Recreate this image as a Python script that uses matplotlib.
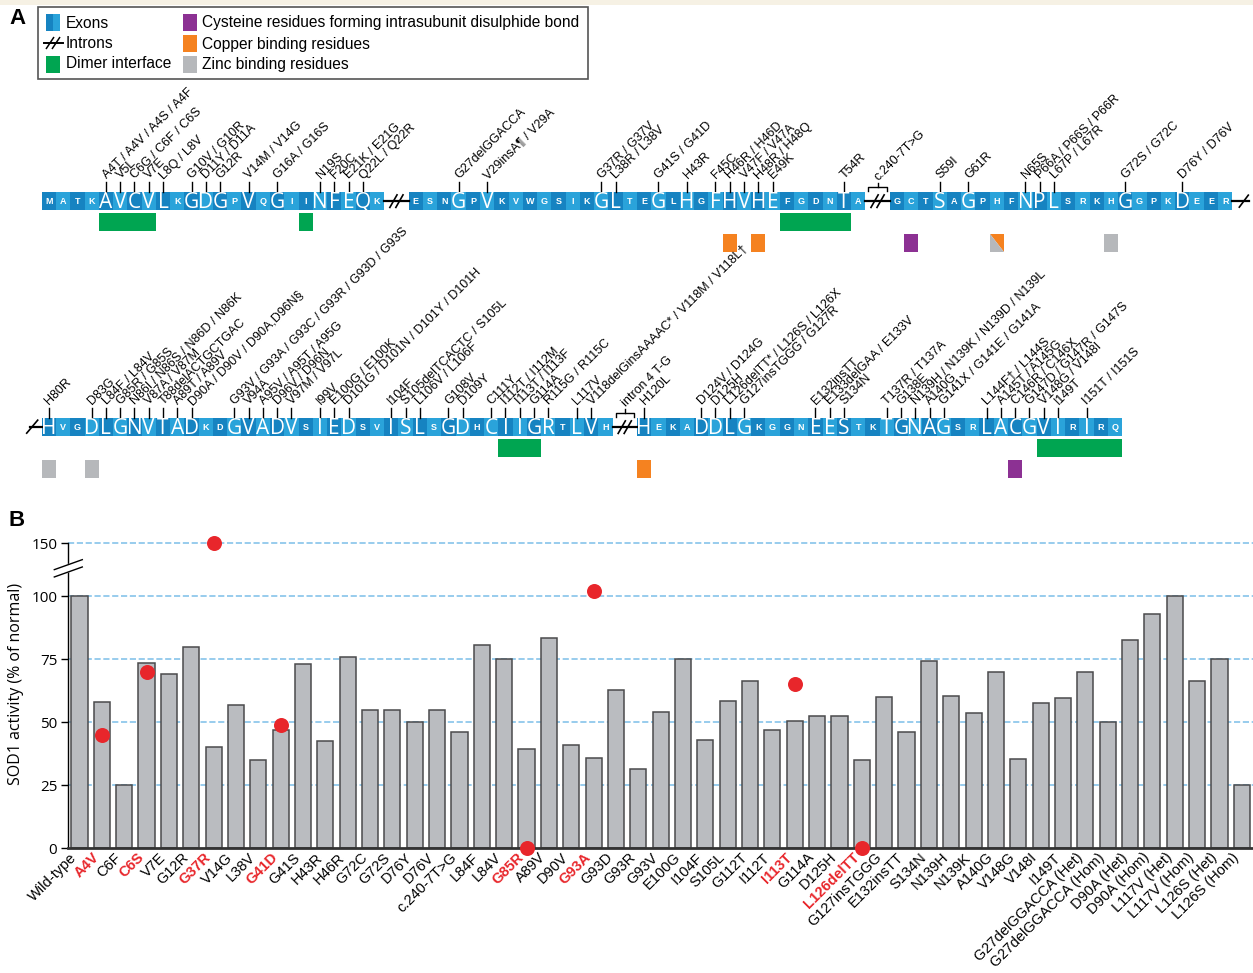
import numpy as np
import matplotlib.pyplot as plt
import matplotlib.transforms as mtransforms
from matplotlib.patches import Rectangle, Polygon

plt.rcParams['font.family'] = ['Liberation Sans', 'DejaVu Sans']

W, H = 1253, 973

# ---------------- panel B data ----------------
categories = ["Wild-type", "A4V", "C6F", "C6S", "V7E", "G12R", "G37R", "V14G", "L38V", "G41D",
              "G41S", "H43R", "H46R", "G72C", "G72S", "D76Y", "D76V", "c.240-7T>G", "L84F", "L84V",
              "G85R", "A89V", "D90V", "G93A", "G93D", "G93R", "G93V", "E100G", "I104F", "S105L",
              "G112T", "I112T", "I113T", "G114A", "D125H", "L126delTT", "G127insTGGG", "E132insTT",
              "S134N", "N139H", "N139K", "A140G", "V148G", "V148I", "I149T",
              "G27delGGACCA (Het)", "G27delGGACCA (Hom)", "D90A (Het)", "D90A (Hom)",
              "L117V (Het)", "L117V (Hom)", "L126S (Het)", "L126S (Hom)"]
activity = [100, 58, 25, 73.5, 69, 80, 40, 57, 35, 47,
            73, 42.5, 76, 55, 55, 50, 55, 46, 80.5, 75,
            39.5, 83.5, 41, 36, 63, 31.5, 54, 75, 43, 58.5,
            66.5, 47, 50.5, 52.5, 52.5, 35, 60, 46,
            74.5, 60.5, 53.5, 70, 35.5, 57.5, 59.5,
            70, 50, 82.5, 93,
            100, 66.5, 75, 25]
highlight_names = ["A4V", "C6S", "G37R", "G41D", "G85R", "G93A", "I113T", "L126delTT"]
highlight_values = [45, 70, 150, 49, 0, 102, 65, 0]
ytick_values = [0, 25, 50, 75, 100, 150]

# ---------------- panel A data ----------------
sequence = ("MATKAVCVLKGDGPVQGIINFEQK" "ESNGPVKVWGSIKGLTEGLHGFHVHEFGDNTA" "GCTSAGPHFNPLSRKHGGPKDEER"
            "HVGDLGNVTADKDGVADVSIEDSVISLSGDHCIIGRTLVH" "HEKADDLGKGGNEESTKTGNAGSRLACGVIRIRQ")
# exon pieces per row, as (first residue, last residue)
segments = [[(0, 23), (24, 55), (56, 79)], [(80, 119), (120, 153)]]
intron_labels = {(0, 1): "c.240-7T>G", (1, 0): "intron 4 T-G"}

mutations = {
    4: "A4T / A4V / A4S / A4F", 5: "V5L", 6: "C6G / C6F / C6S", 7: "V7E", 8: "L8Q / L8V",
    10: "G10V / G10R", 11: "D11Y / D11A", 12: "G12R", 14: "V14M / V14G", 16: "G16A / G16S",
    19: "N19S", 20: "F20C", 21: "E21K / E21G", 22: "Q22L / Q22R",
    27: "G27delGGACCA", 29: "V29insA¶ / V29A", 37: "G37R / G37V", 38: "L38R / L38V",
    41: "G41S / G41D", 43: "H43R", 45: "F45C", 46: "H46R / H46D", 47: "V47F / V47A",
    48: "H48R / H48Q", 49: "E49K", 54: "T54R",
    59: "S59I", 61: "G61R", 65: "N65S", 66: "P66A / P66S / P66R", 67: "L67P / L67R",
    72: "G72S / G72C", 76: "D76Y / D76V",
    80: "H80R", 83: "D83G", 84: "L84F / L84V", 85: "G85R / G85S", 86: "N86I / N86S / N86D / N86K",
    87: "V87A / V87M", 88: "T88delACTGCTGAC", 89: "A89T / A89V", 90: "D90A / D90V / D90A,D96N§",
    93: "G93V / G93A / G93C / G93R / G93D / G93S", 94: "V94A", 95: "A95V / A95T / A95G",
    96: "D96V / D96N", 97: "V97M / V97L", 99: "I99V", 100: "E100G / E100K",
    101: "D101G / D101N / D101Y / D101H", 104: "I104F", 105: "S105delTCACTC / S105L",
    106: "L106V / L106F", 108: "G108V", 109: "D109Y", 111: "C111Y", 112: "I112T / I112M",
    113: "I113T / I113F", 114: "G114A", 115: "R115G / R115C", 117: "L117V",
    118: "V118delGinsAAAAC* / V118M / V118L†",
    120: "H120L", 124: "D124V / D124G", 125: "D125H", 126: "L126delTT* / L126S / L126X",
    127: "G127insTGGG / G127R", 132: "E132insTT", 133: "E133delGAA / E133V", 134: "S134N",
    137: "T137R / T137A", 138: "G138E", 139: "N139H / N139K / N139D / N139L", 140: "A140G",
    141: "G141X / G141E / G141A", 144: "L144F† / L144S", 145: "A145T / A145G",
    146: "C146R / C146X", 147: "G147D / G147R / G147S", 148: "V148G / V148I", 149: "I149T",
    151: "I151T / I151S",
}
dimer_interface = [(4, 7), (18, 18), (50, 54), (112, 114), (148, 153)]
cysteine_res = [57, 146]
copper_res = [46, 48, 120]
zinc_res = [71, 80, 83]
copper_zinc_res = [63]

C_DARK, C_LIGHT = '#1683c1', '#2aa3da'
C_GREEN, C_ORANGE, C_PURPLE, C_GREY = '#00a551', '#f58220', '#8c3193', '#b6b8bb'
C_RED = '#e8262b'

fig = plt.figure(figsize=(W / 100, H / 100), dpi=100)

# ================= panel B : bar chart =================
BRK, K = 104.0, 0.37


def fwd(v):
    v = np.asarray(v, dtype=float)
    return np.where(v <= BRK, v, BRK + (v - BRK) * K)


def inv(v):
    v = np.asarray(v, dtype=float)
    return np.where(v <= BRK, v, BRK + (v - BRK) / K)


ax = fig.add_axes([68.3 / W, 1 - 848.3 / H, (W - 68.3) / W, (848.3 - 543.3) / H])
ax.set_yscale('function', functions=(fwd, inv))
x = np.arange(len(categories))
ax.bar(x, activity, width=0.72, color='#babcc0', edgecolor='#4a4a4c', linewidth=1.1, zorder=2)
for v in ytick_values[1:]:
    ax.axhline(v, color='#86c4ea', lw=1.2, ls=(0, (3.7, 1.6)), zorder=1, clip_on=False)
hx = [categories.index(n) for n in highlight_names]
ax.plot(hx, highlight_values, 'o', color=C_RED, markersize=10.8, markeredgewidth=0,
        clip_on=False, zorder=5)
ax.set_xlim(-0.5, len(categories) - 0.5)
ax.set_ylim(0, 150)
ax.set_yticks(ytick_values)
ax.yaxis.set_minor_locator(plt.NullLocator())
ax.set_yticklabels([str(v) for v in ytick_values], fontsize=11, family='Open Sans')
ax.tick_params(axis='y', length=5, width=1, pad=3)
ax.tick_params(axis='x', length=0, pad=5)
ax.set_xticks(x)
ax.set_xticklabels(categories, rotation=45, ha='right', va='center', rotation_mode='anchor',
                   fontsize=10.5)
shift = mtransforms.ScaledTranslation(-5 / 100, 0, fig.dpi_scale_trans)
for lab in ax.get_xticklabels():
    lab.set_transform(lab.get_transform() + shift)
    if lab.get_text() in highlight_names:
        lab.set_color(C_RED)
        lab.set_fontweight('bold')
for s in ['top', 'right']:
    ax.spines[s].set_visible(False)
ax.spines['left'].set_linewidth(1.0)
ax.spines['bottom'].set_linewidth(2.0)
ax.spines['bottom'].set_color('#333333')
ax.set_ylabel("SOD1 activity (% of normal)", fontsize=11.5, family='Open Sans')
ax.yaxis.set_label_coords(-0.037, 0.54)

# axis break marks on the y spine
yb = 0.918
dx, dy = 14 / 1185, 5 / 305
ax.add_patch(Polygon([(-dx, yb - dy - 0.012), (dx, yb + dy - 0.012), (dx, yb + dy + 0.012),
                      (-dx, yb - dy + 0.012)], closed=True, transform=ax.transAxes,
                     color='white', clip_on=False, zorder=6))
for off in (-0.012, 0.012):
    ax.plot([-dx, dx], [yb - dy + off, yb + dy + off], color='black', lw=1.0,
            transform=ax.transAxes, clip_on=False, zorder=7)

# ================= panel A : sequence map (pixel space) =================
axa = fig.add_axes([0, 0, 1, 1], zorder=10)
axa.set_xlim(0, W)
axa.set_ylim(H, 0)
axa.axis('off')
axa.patch.set_visible(False)

axa.add_patch(Rectangle((0, 0), W, 5, color='#f6f1e4', lw=0))
axa.text(9, 18, "A", fontsize=16, fontweight='bold', va='center', ha='left')
axa.text(9, 520, "B", fontsize=16, fontweight='bold', va='center', ha='left')

ROW_X0, BOX, GAP = 41.7, 14.27, 24.5
row_top = [192.3, 418.3]
BAR_H = 17.7
LAB_FS = 9


def intron_mark(xc, yc, size=7, lw=1.2):
    for off in (-3, 3):
        axa.plot([xc + off - 4, xc + off + 4], [yc + size, yc - size], color='black', lw=lw,
                 solid_capstyle='butt')


res_pos = {}
for r, segs in enumerate(segments):
    xs = ROW_X0
    top = row_top[r]
    yc = top + BAR_H / 2
    for k, (a, b) in enumerate(segs):
        for i in range(a, b + 1):
            res_pos[i] = (r, xs + (i - a) * BOX)
        xe = xs + (b - a + 1) * BOX
        if k < len(segs) - 1:
            nx = xe + GAP
            axa.plot([xe, nx], [yc, yc], color='black', lw=1.6)
            intron_mark((xe + nx) / 2, yc)
            if (r, k) in intron_labels:
                by = top - 5
                axa.plot([xe + 3, xe + 3, nx - 3, nx - 3], [by + 4, by, by, by + 4],
                         color='black', lw=1.0)
                mx = (xe + nx) / 2
                axa.plot([mx, mx], [by, by - 4], color='black', lw=1.0)
                axa.text(mx - 1, by - 8, intron_labels[(r, k)], rotation=45, ha='left',
                         va='center', rotation_mode='anchor', fontsize=LAB_FS)
        xs = xe + GAP
    if r == 0:
        axa.plot([xe, xe + 17], [yc, yc], color='black', lw=1.6)
        axa.plot([xe + 7, xe + 16], [yc + 6, yc - 6], color='black', lw=1.2)
    else:
        axa.plot([ROW_X0 - 12, ROW_X0], [yc, yc], color='black', lw=1.6)
        axa.plot([ROW_X0 - 15, ROW_X0 - 4], [yc + 6, yc - 7], color='black', lw=1.2)

for i, aa in enumerate(sequence):
    r, xl = res_pos[i]
    top = row_top[r]
    axa.add_patch(Rectangle((xl, top), BOX, BAR_H, color=C_DARK if i % 2 == 0 else C_LIGHT,
                            lw=0))
    xc = xl + BOX / 2
    if i in mutations:
        axa.text(xc, top + BAR_H / 2 + 1, aa, color='white', fontsize=15, family='Open Sans',
                 ha='center', va='center')
        axa.plot([xc, xc], [top, top - 10.5], color='black', lw=1.0)
        axa.text(xc - 1.5, top - 15, mutations[i], rotation=45, ha='left', va='center',
                 rotation_mode='anchor', fontsize=LAB_FS)
    else:
        axa.text(xc, top + BAR_H / 2 + 0.5, aa, color='white', fontsize=6.5,
                 fontweight='bold', ha='center', va='center')

# structural features under the sequence
for a, b in dimer_interface:
    r, xl = res_pos[a]
    _, xr = res_pos[b]
    axa.add_patch(Rectangle((xl, row_top[r] + 21), xr + BOX - xl, 17.7, color=C_GREEN, lw=0))
for res_list, col in [(cysteine_res, C_PURPLE), (copper_res, C_ORANGE), (zinc_res, C_GREY)]:
    for i in res_list:
        r, xl = res_pos[i]
        axa.add_patch(Rectangle((xl, row_top[r] + 41.7), BOX, 17.5, color=col, lw=0))
for i in copper_zinc_res:
    r, xl = res_pos[i]
    y0 = row_top[r] + 41.7
    axa.add_patch(Polygon([(xl, y0), (xl + BOX, y0), (xl + BOX, y0 + 17.5)], color=C_ORANGE, lw=0))
    axa.add_patch(Polygon([(xl, y0), (xl, y0 + 17.5), (xl + BOX, y0 + 17.5)], color=C_GREY, lw=0))

# legend box
axa.add_patch(Rectangle((38, 7), 550, 72, fill=False, edgecolor='#555555', lw=1.2))
axa.add_patch(Rectangle((46, 14), 7, 17, color=C_DARK, lw=0))
axa.add_patch(Rectangle((53, 14), 7, 17, color=C_LIGHT, lw=0))
axa.plot([44, 63], [43, 43], color='black', lw=1.4)
intron_mark(53, 43, size=6, lw=1.1)
axa.add_patch(Rectangle((46, 56), 14, 17, color=C_GREEN, lw=0))
for yy, col in [(14, C_PURPLE), (35, C_ORANGE), (56, C_GREY)]:
    axa.add_patch(Rectangle((183, yy), 14, 17, color=col, lw=0))
leg_fs = 11.2
axa.text(66, 23, "Exons", fontsize=leg_fs, va='center')
axa.text(66, 43, "Introns", fontsize=leg_fs, va='center')
axa.text(66, 64, "Dimer interface", fontsize=leg_fs, va='center')
axa.text(202, 23, "Cysteine residues forming intrasubunit disulphide bond", fontsize=leg_fs,
         va='center')
axa.text(202, 44, "Copper binding residues", fontsize=leg_fs, va='center')
axa.text(202, 64, "Zinc binding residues", fontsize=leg_fs, va='center')

fig.savefig("out.png", dpi=100)
